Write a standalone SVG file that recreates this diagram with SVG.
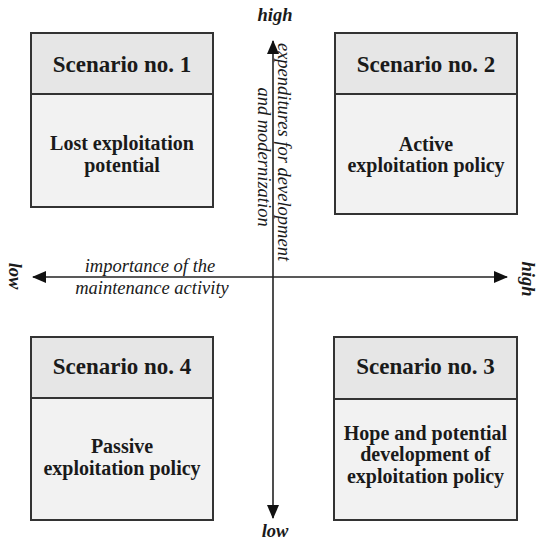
<svg xmlns="http://www.w3.org/2000/svg" width="538" height="540" viewBox="0 0 538 540">
  <style>
    .hdr { fill: #e6e6e6; stroke: #333; stroke-width: 2; }
    .body { fill: #f2f2f2; stroke: #333; stroke-width: 2; }
    .title { font-family: "Liberation Serif", "Times New Roman", serif; font-weight: bold; font-size: 23px; fill: #1a1a1a; text-anchor: middle; }
    .txt { font-family: "Liberation Serif", "Times New Roman", serif; font-weight: bold; font-size: 20px; fill: #1a1a1a; text-anchor: middle; }
    .ax { font-family: "Liberation Serif", "Times New Roman", serif; font-style: italic; font-size: 18.5px; fill: #1a1a1a; text-anchor: middle; }
    .end { font-family: "Liberation Serif", "Times New Roman", serif; font-style: italic; font-weight: bold; font-size: 18.5px; fill: #1a1a1a; text-anchor: middle; }
    .axis { stroke: #222; stroke-width: 1.6; fill: none; }
  </style>
  <defs>
    <marker id="arr" viewBox="0 0 14 12" refX="13" refY="6" markerWidth="14" markerHeight="12" markerUnits="userSpaceOnUse" orient="auto-start-reverse">
      <path d="M0,0 L14,6 L0,12 Z" fill="#111"/>
    </marker>
  </defs>

  <g id="connectors">
    <line class="axis" x1="273" y1="41" x2="273" y2="518" marker-start="url(#arr)" marker-end="url(#arr)"/>
    <line class="axis" x1="33" y1="277" x2="507" y2="277" marker-start="url(#arr)" marker-end="url(#arr)"/>
  </g>

  <g id="axis-labels">
    <text class="end" x="275" y="21">high</text>
    <text class="end" x="275" y="537">low</text>
    <text class="end" transform="translate(9,276) rotate(90)">low</text>
    <text class="end" transform="translate(522,279) rotate(90)">high</text>
    <text class="ax" transform="translate(278,152) rotate(90)">expenditures for development</text>
    <text class="ax" transform="translate(258,157) rotate(90)">and modernization</text>
    <text class="ax" x="150" y="272">importance of the</text>
    <text class="ax" x="152" y="294">maintenance activity</text>
  </g>

  <g id="scenario1">
    <rect class="body" x="31" y="94" width="182" height="113"/>
    <rect class="hdr" x="31" y="33" width="182" height="61"/>
    <text class="title" x="122" y="72">Scenario no. 1</text>
    <text class="txt" x="122" y="150">Lost exploitation</text>
    <text class="txt" x="122" y="172">potential</text>
  </g>

  <g id="scenario2">
    <rect class="body" x="335" y="94" width="182" height="120"/>
    <rect class="hdr" x="335" y="33" width="182" height="61"/>
    <text class="title" x="426" y="72">Scenario no. 2</text>
    <text class="txt" x="426" y="151">Active</text>
    <text class="txt" x="426" y="172">exploitation policy</text>
  </g>

  <g id="scenario4">
    <rect class="body" x="31" y="398" width="182" height="122"/>
    <rect class="hdr" x="31" y="337" width="182" height="61"/>
    <text class="title" x="122" y="374">Scenario no. 4</text>
    <text class="txt" x="122" y="453">Passive</text>
    <text class="txt" x="122" y="475">exploitation policy</text>
  </g>

  <g id="scenario3">
    <rect class="body" x="334" y="399" width="183" height="121"/>
    <rect class="hdr" x="334" y="337" width="183" height="62"/>
    <text class="title" x="425.5" y="374">Scenario no. 3</text>
    <text class="txt" x="425.5" y="440">Hope and potential</text>
    <text class="txt" x="425.5" y="461">development of</text>
    <text class="txt" x="425.5" y="483">exploitation policy</text>
  </g>
</svg>
